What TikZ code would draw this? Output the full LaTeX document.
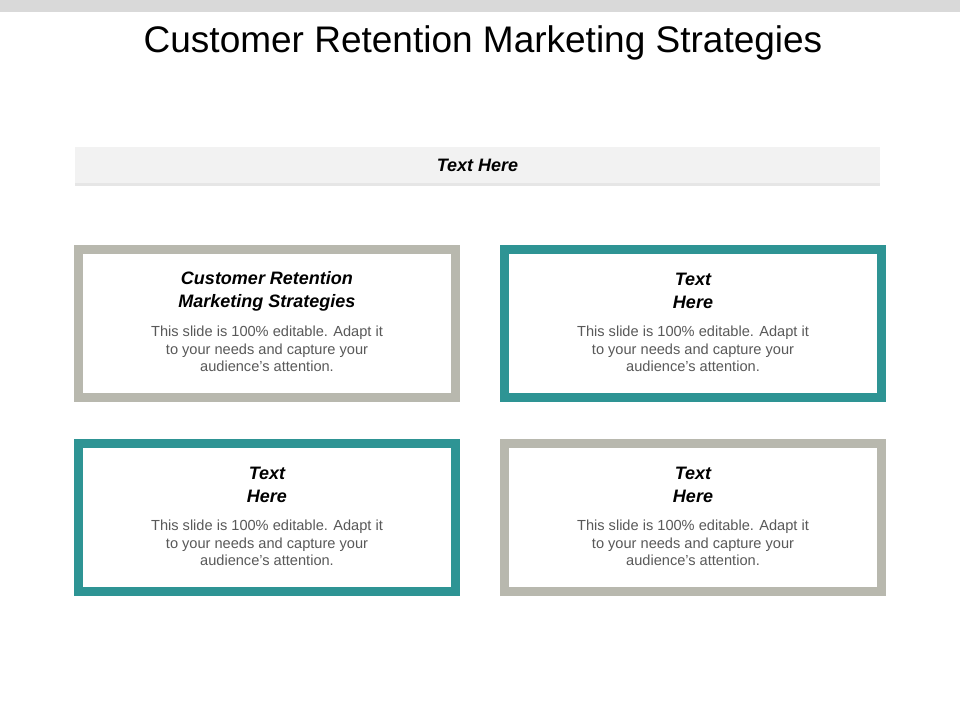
\documentclass[tikz,border=0pt]{standalone}
\usepackage{fontspec}
\setmainfont{Liberation Sans}
\usetikzlibrary{positioning,shadows}
\definecolor{framegray}{HTML}{B8B8AE}
\definecolor{frameteal}{HTML}{2E9494}
\definecolor{bodygray}{HTML}{595959}
\tikzset{
  card/.style={draw=#1,line width=9pt,fill=white,minimum width=377pt,minimum height=148pt,
    drop shadow={shadow xshift=2pt,shadow yshift=-2pt,opacity=0.25}},
  cardhead/.style={font=\fontsize{18}{23}\selectfont\bfseries\itshape,align=center},
  cardbody/.style={font=\fontsize{14.6}{17.5}\selectfont,text=bodygray,align=center}
}
\begin{document}
\begin{tikzpicture}[x=1pt,y=-1pt]
\useasboundingbox (0,0) rectangle (960,720);
\fill[gray!30] (0,0) rectangle (960,12);
\node[font=\fontsize{37}{42}\selectfont] (title) at (483,43) {Customer Retention Marketing Strategies};
\node[fill=gray!10,minimum width=805pt,minimum height=36pt,
  font=\fontsize{18}{21}\selectfont\bfseries\itshape,
  drop shadow={shadow xshift=0pt,shadow yshift=-3pt,opacity=0.2}] (bar) at (477.5,165) {Text Here};
% cards
\node[card=framegray] (c1) at (267,323.5) {};
\node[card=frameteal] (c2) at (693,323.5) {};
\node[card=frameteal] (c3) at (267,517.5) {};
\node[card=framegray] (c4) at (693,517.5) {};
\node[cardhead] at (267,291) {Customer Retention\\Marketing Strategies};
\node[cardhead] at (693,291) {Text\\Here};
\node[cardhead] at (267,485) {Text\\Here};
\node[cardhead] at (693,485) {Text\\Here};
\foreach \px/\py in {267/349,693/349,267/543,693/543}
  \node[cardbody] at (\px,\py) {This slide is 100\% editable. Adapt it\\to your needs and capture your\\audience's attention.};
\end{tikzpicture}
\end{document}
